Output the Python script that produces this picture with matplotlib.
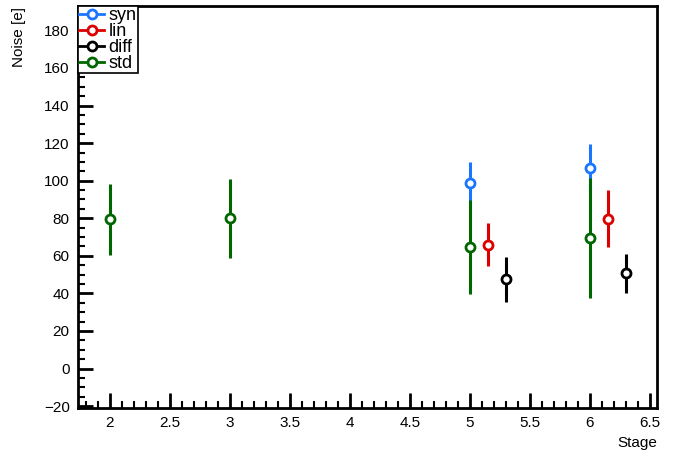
import numpy as np
import matplotlib
matplotlib.use('Agg')
import matplotlib.pyplot as plt
from matplotlib.ticker import MultipleLocator
from matplotlib.lines import Line2D

plt.rcParams['font.family'] = ['Liberation Sans', 'DejaVu Sans']

# stage, value, error per series
syn_x = [5, 6];           syn_y = [98.7, 107.0];  syn_e = [11.0, 12.5]
lin_x = [5.15, 6.15];     lin_y = [66.0, 79.8];   lin_e = [11.6, 15.0]
diff_x = [5.3, 6.3];      diff_y = [47.5, 50.8];  diff_e = [12.0, 10.4]
std_x = [2, 3, 5, 6];     std_y = [79.5, 80.0, 64.5, 69.7]; std_e = [19.0, 21.0, 25.0, 32.0]

series = [('syn', syn_x, syn_y, syn_e, '#1a75ff'),
          ('lin', lin_x, lin_y, lin_e, '#dd0000'),
          ('diff', diff_x, diff_y, diff_e, 'black'),
          ('std', std_x, std_y, std_e, '#006600')]

fig = plt.figure(figsize=(6.8, 4.53), dpi=100)
ax = fig.add_axes([78/680, 1-408/453, (657-78)/680, (408-6)/453])

handles = []
for name, x, y, e, c in series:
    ax.errorbar(x, y, yerr=e, fmt='o', color=c, mfc='white', mec=c, mew=2, ms=6.5,
                elinewidth=2.2, capsize=0)
    handles.append(Line2D([], [], color=c, lw=2, marker='o', ms=6.5, mew=2,
                          mfc='white', mec=c, label=name))

ax.set_xlim(1.735, 6.56)
ax.set_ylim(-21, 193)
ax.xaxis.set_minor_locator(MultipleLocator(0.1))
ax.yaxis.set_major_locator(MultipleLocator(20))
ax.yaxis.set_minor_locator(MultipleLocator(5))
ax.set_xticks([2, 2.5, 3, 3.5, 4, 4.5, 5, 5.5, 6, 6.5])
ax.set_xticklabels(['2', '2.5', '3', '3.5', '4', '4.5', '5', '5.5', '6', '6.5'])
ax.tick_params(which='both', direction='in', top=False, right=False, labelsize=11)
ax.tick_params(which='major', length=11, width=2, pad=6)
ax.tick_params(which='minor', length=5, width=1.5)
for s in ax.spines.values():
    s.set_linewidth(2)

leg = ax.legend(handles=handles, loc='upper left', bbox_to_anchor=(0, 1.0), fontsize=13,
                frameon=True, fancybox=False, framealpha=1, borderpad=0.05,
                labelspacing=-0.05, handlelength=1.4, handletextpad=0.25, borderaxespad=0)
leg.get_frame().set_edgecolor('black')
leg.get_frame().set_linewidth(1.2)

fig.text(19/680, 1-7/453, 'Noise [e]', rotation=90, ha='center', va='top', fontsize=11)
fig.text(657/680, 1-443/453, 'Stage', ha='right', va='center', fontsize=11)

fig.savefig('out.png', dpi=100)
